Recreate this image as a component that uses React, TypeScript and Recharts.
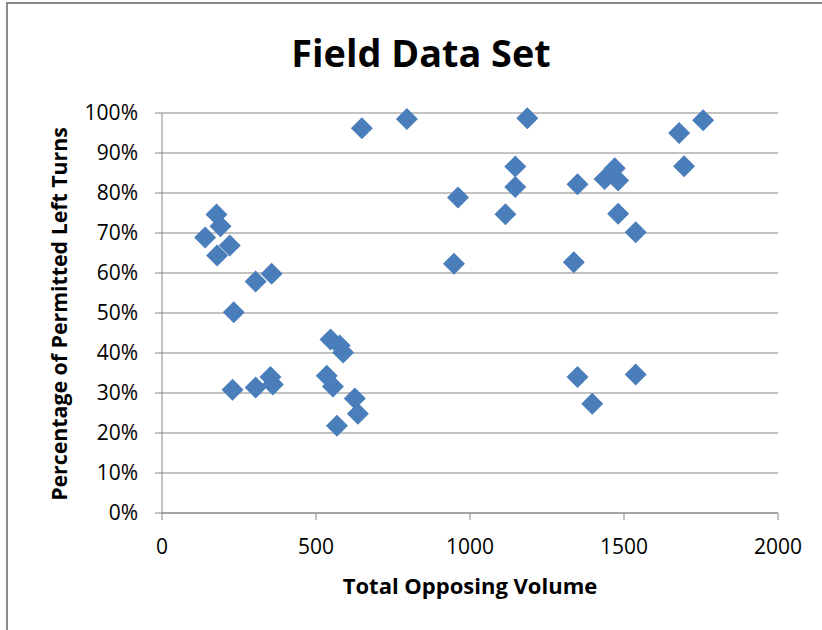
import React from "react";
import { ScatterChart, Scatter, XAxis, YAxis, CartesianGrid } from "recharts";

// Total opposing volume (x) and percentage of permitted left turns (y)
const opposingVolume = [
  177, 190, 140, 220, 179, 304, 356, 233, 229, 304, 352, 360,
  547, 577, 588, 535, 555, 626, 636, 568,
  649, 795, 1186, 1147, 1147, 961, 1115, 948,
  1349, 1470, 1437, 1481, 1481, 1538, 1337, 1679, 1757, 1695, 1349, 1538, 1397,
];
const permittedPct = [
  74.6, 71.7, 68.9, 66.9, 64.4, 57.9, 59.8, 50.2, 30.8, 31.4, 34.0, 32.1,
  43.4, 41.9, 40.1, 34.3, 31.6, 28.6, 24.8, 21.8,
  96.2, 98.5, 98.7, 86.6, 81.5, 78.9, 74.7, 62.3,
  82.2, 86.2, 83.5, 83.1, 74.8, 70.2, 62.7, 95.0, 98.2, 86.7, 34.0, 34.6, 27.3,
];
const xTicks = [0, 500, 1000, 1500, 2000];
const yTicks = [0, 10, 20, 30, 40, 50, 60, 70, 80, 90, 100];

const chartTitle = "Field Data Set";
const xTitle = "Total Opposing Volume";
const yTitle = "Percentage of Permitted Left Turns";

const data = opposingVolume.map((x, i) => ({ x, y: permittedPct[i] }));

const FONT = "'Open Sans', 'DejaVu Sans', sans-serif";
const GRID = "#868686";
const MARK = "#4A7EBB";

const Diamond = (props: any) => {
  const { cx, cy } = props;
  if (cx == null || cy == null) return null;
  const r = 11;
  return (
    <polygon
      points={`${cx},${cy - r} ${cx + r},${cy} ${cx},${cy + r} ${cx - r},${cy}`}
      fill={MARK}
    />
  );
};

export default function App() {
  return (
    <div
      style={{
        position: "absolute",
        left: 0,
        top: 0,
        width: 822,
        height: 630,
        overflow: "hidden",
        background: "#fff",
      }}
    >
      <div style={{ position: "absolute", left: 6, top: 2, width: 816, height: 2, background: "#8c8c8c" }} />
      <div style={{ position: "absolute", left: 6, top: 2, width: 2, height: 628, background: "#8c8c8c" }} />
      <div style={{ position: "absolute", left: 0, top: 0 }}>
        <ScatterChart
          width={822}
          height={630}
          margin={{ top: 113, right: 44, bottom: 87, left: 102 }}
        >
          <CartesianGrid horizontal={true} vertical={false} stroke={GRID} strokeWidth={1} />
          <XAxis
            type="number"
            dataKey="x"
            domain={[0, 2000]}
            ticks={xTicks}
            interval={0}
            height={30}
            tickSize={7}
            tickMargin={19}
            axisLine={{ stroke: GRID }}
            tickLine={{ stroke: GRID }}
            tick={{ fontSize: 21, fill: "#000", fontFamily: FONT }}
          />
          <YAxis
            type="number"
            dataKey="y"
            domain={[0, 100]}
            ticks={yTicks}
            interval={0}
            width={60}
            tickSize={7}
            tickMargin={17}
            tickFormatter={(v: number) => `${v}%`}
            axisLine={{ stroke: GRID }}
            tickLine={{ stroke: GRID }}
            tick={{ fontSize: 21, fill: "#000", fontFamily: FONT }}
          />
          <Scatter data={data} shape={Diamond} isAnimationActive={false} />
        </ScatterChart>
      </div>
      <svg
        width={822}
        height={630}
        style={{ position: "absolute", left: 0, top: 0, pointerEvents: "none" }}
      >
        <text
          x={421}
          y={67}
          textAnchor="middle"
          fontFamily={FONT}
          fontWeight={700}
          fontSize={37.8}
          fill="#000"
        >
          {chartTitle}
        </text>
        <text
          x={470}
          y={594}
          textAnchor="middle"
          fontFamily={FONT}
          fontWeight={700}
          fontSize={22}
          fill="#000"
        >
          {xTitle}
        </text>
        <text
          x={0}
          y={0}
          transform="translate(67,314) rotate(-90)"
          textAnchor="middle"
          fontFamily={FONT}
          fontWeight={700}
          fontSize={21.3}
          fill="#000"
        >
          {yTitle}
        </text>
      </svg>
    </div>
  );
}
